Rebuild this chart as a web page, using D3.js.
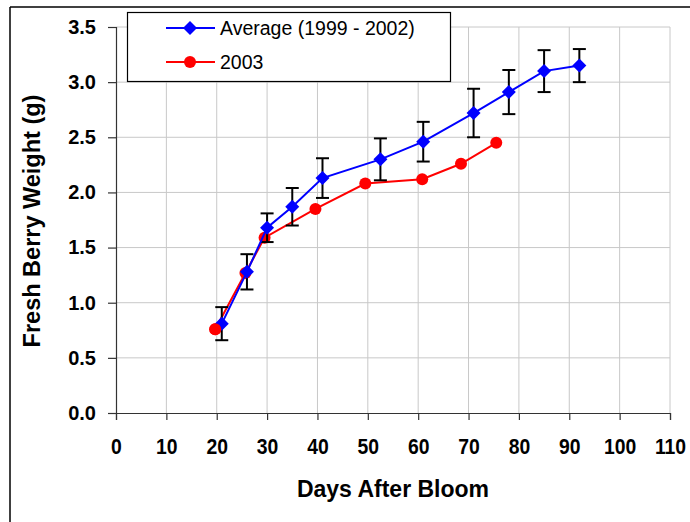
<!DOCTYPE html>
<html><head><meta charset="utf-8">
<script src="https://cdn.jsdelivr.net/npm/d3@7"></script>
<style>body{margin:0;background:#fff}svg{display:block}</style>
</head><body>
<svg id="c" width="690" height="522"></svg>
<script>
const avgDays = [21, 26, 30, 35, 41, 52.5, 61, 71, 78, 85, 92];
const avgWeight = [0.81, 1.28, 1.68, 1.87, 2.13, 2.30, 2.46, 2.72, 2.91, 3.10, 3.15];
const avgErr = [0.15, 0.16, 0.13, 0.17, 0.18, 0.19, 0.18, 0.22, 0.20, 0.19, 0.15];
const days2003 = [19.7, 25.7, 29.5, 39.6, 49.5, 60.8, 68.5, 75.5];
const weight2003 = [0.76, 1.27, 1.59, 1.85, 2.08, 2.12, 2.26, 2.45];
const xTicks = [0,10,20,30,40,50,60,70,80,90,100,110];
const yTicks = [0,0.5,1,1.5,2,2.5,3,3.5];
const seriesNames = ["Average (1999 - 2002)", "2003"];

const svg = d3.select("#c");
const L = 116, R = 670, T = 27, B = 413;
const x = d3.scaleLinear().domain([0,110]).range([L,R]);
const y = d3.scaleLinear().domain([0,3.5]).range([B,T]);
const font = "'Liberation Sans', Arial, sans-serif";

// outer border
svg.append("line").attr("x1",10).attr("x2",690).attr("y1",7).attr("y2",7).attr("stroke","#000").attr("stroke-width",1.5);
svg.append("line").attr("x1",10).attr("x2",10).attr("y1",7).attr("y2",522).attr("stroke","#000").attr("stroke-width",1.5);

// grid
svg.append("g").selectAll("line").data(xTicks.slice(1)).join("line")
  .attr("x1",d=>x(d)).attr("x2",d=>x(d)).attr("y1",T).attr("y2",B)
  .attr("stroke","#c8c8c8").attr("stroke-width",1);
svg.append("g").selectAll("line").data(yTicks.slice(1)).join("line")
  .attr("x1",L).attr("x2",R).attr("y1",d=>y(d)).attr("y2",d=>y(d))
  .attr("stroke","#c8c8c8").attr("stroke-width",1);

// axes
const xAxis = svg.append("g").attr("transform",`translate(0,${B})`)
  .call(d3.axisBottom(x).tickValues(xTicks).tickSize(7).tickPadding(18).tickFormat(d3.format("d")));
const yAxis = svg.append("g").attr("transform",`translate(${L},0)`)
  .call(d3.axisLeft(y).tickValues(yTicks).tickSize(8).tickPadding(12).tickFormat(d3.format(".1f")));
[xAxis,yAxis].forEach(g=>{
  g.select(".domain").attr("stroke","#333").attr("stroke-width",1.2);
  g.selectAll(".tick line").attr("stroke","#333").attr("stroke-width",1.2);
  g.selectAll(".tick text").attr("fill","#000").attr("font-family",font).attr("font-weight","bold");
});
xAxis.selectAll(".tick text").attr("font-size",22).attr("transform","scale(0.88,1)");
yAxis.selectAll(".tick text").attr("font-size",20);

// axis titles
svg.append("text").attr("x",393).attr("y",497).attr("text-anchor","middle")
  .attr("font-family",font).attr("font-size",23).attr("font-weight","bold").text("Days After Bloom");
svg.append("text").attr("transform",`translate(40,221) rotate(-90)`).attr("text-anchor","middle")
  .attr("font-family",font).attr("font-size",23.5).attr("font-weight","bold").text("Fresh Berry Weight (g)");

const avg = avgDays.map((d,i)=>({d, w:avgWeight[i], e:avgErr[i]}));
const s03 = days2003.map((d,i)=>({d, w:weight2003[i]}));
const line = d3.line().x(p=>x(p.d)).y(p=>y(p.w));

// 2003 series
svg.append("path").datum(s03).attr("d",line).attr("fill","none").attr("stroke","#ff0000").attr("stroke-width",2);
svg.append("g").selectAll("circle").data(s03).join("circle")
  .attr("cx",p=>x(p.d)).attr("cy",p=>y(p.w)).attr("r",6).attr("fill","#ff0000");

// error bars
const eb = svg.append("g").attr("stroke","#000").attr("stroke-width",2);
avg.forEach(p=>{
  const cx = x(p.d);
  eb.append("line").attr("x1",cx).attr("x2",cx).attr("y1",y(p.w+p.e)).attr("y2",y(p.w-p.e));
  eb.append("line").attr("x1",cx-6.5).attr("x2",cx+6.5).attr("y1",y(p.w+p.e)).attr("y2",y(p.w+p.e));
  eb.append("line").attr("x1",cx-6.5).attr("x2",cx+6.5).attr("y1",y(p.w-p.e)).attr("y2",y(p.w-p.e));
});

// avg series
svg.append("path").datum(avg).attr("d",line).attr("fill","none").attr("stroke","#0000ff").attr("stroke-width",2);
const diamond = "M0,-7L7,0L0,7L-7,0Z";
svg.append("g").selectAll("path").data(avg).join("path")
  .attr("transform",p=>`translate(${x(p.d)},${y(p.w)})`).attr("d",diamond).attr("fill","#0000ff");

// first red marker sits on top of blue in the reference
svg.append("g").selectAll("circle").data(s03.slice(0,1)).join("circle")
  .attr("cx",p=>x(p.d)).attr("cy",p=>y(p.w)).attr("r",6).attr("fill","#ff0000");

// legend
const lg = svg.append("g");
lg.append("rect").attr("x",127.5).attr("y",12.5).attr("width",323).attr("height",69)
  .attr("fill","#fff").attr("stroke","#000").attr("stroke-width",1.2);
const ly = [28, 62];
lg.append("line").attr("x1",166).attr("x2",215).attr("y1",ly[0]).attr("y2",ly[0]).attr("stroke","#0000ff").attr("stroke-width",2);
lg.append("path").attr("transform",`translate(190,${ly[0]})`).attr("d",diamond).attr("fill","#0000ff");
lg.append("line").attr("x1",166).attr("x2",215).attr("y1",ly[1]).attr("y2",ly[1]).attr("stroke","#ff0000").attr("stroke-width",2);
lg.append("circle").attr("cx",190).attr("cy",ly[1]).attr("r",6).attr("fill","#ff0000");
lg.selectAll("text").data(seriesNames).join("text")
  .attr("x",220).attr("y",(d,i)=>ly[i]+7).attr("font-family",font).attr("font-size",19.5).text(d=>d);
</script>
</body></html>
